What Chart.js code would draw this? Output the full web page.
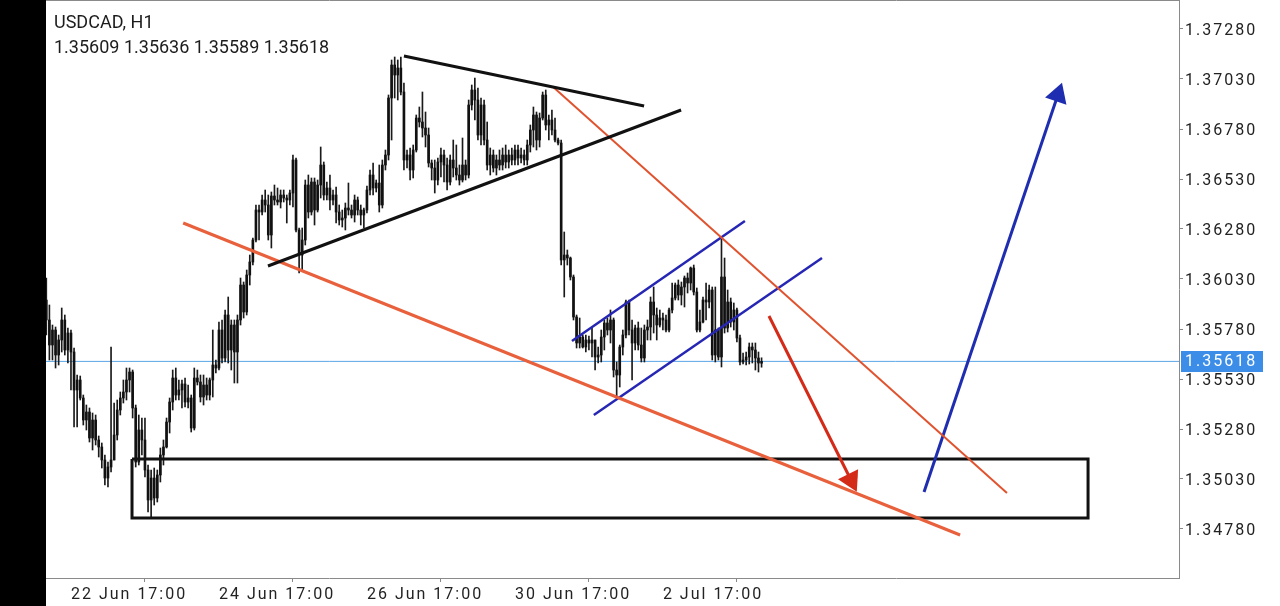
<!DOCTYPE html>
<html><head><meta charset="utf-8">
<script src="https://cdn.jsdelivr.net/npm/chart.js@4.4.1/dist/chart.umd.min.js"></script>
<style>
html,body{margin:0;padding:0;background:#fff;width:1280px;height:606px;overflow:hidden}
#bar{position:absolute;left:0;top:0;width:46px;height:606px;background:#000}
#wrap{position:absolute;left:46px;top:0;width:1234px;height:606px}
.hdr{position:absolute;left:54px;font-family:Roboto,sans-serif;font-size:18px;line-height:18px;color:#1c1c1c;white-space:nowrap}
</style></head><body>
<div id="bar"></div>
<div id="wrap"><canvas id="c" width="1234" height="606"></canvas></div>
<div class="hdr" id="h1" style="top:13px"></div>
<div class="hdr" id="h2" style="top:38px"></div>
<script>
const symbolTitle = 'USDCAD, H1';
const open = [1.35925,1.35825,1.35700,1.35775,1.35650,1.35725,1.35825,1.35675,1.35760,1.35665,1.35475,1.35525,1.35435,1.35325,1.35365,1.35235,1.35325,1.35225,1.35190,1.35125,1.35035,1.35090,1.35125,1.35250,1.35375,1.35435,1.35465,1.35525,1.35565,1.35385,1.35115,1.35275,1.35225,1.35075,1.34925,1.35035,1.34935,1.35050,1.35150,1.35190,1.35315,1.35415,1.35535,1.35450,1.35475,1.35505,1.35415,1.35435,1.35285,1.35535,1.35515,1.35440,1.35500,1.35450,1.35525,1.35600,1.35585,1.35775,1.35635,1.35850,1.35675,1.35800,1.35665,1.35825,1.36000,1.35865,1.36050,1.36115,1.36225,1.36375,1.36365,1.36425,1.36400,1.36250,1.36445,1.36425,1.36415,1.36450,1.36435,1.36425,1.36460,1.36625,1.36275,1.36150,1.36225,1.36500,1.36365,1.36515,1.36375,1.36500,1.36600,1.36450,1.36485,1.36425,1.36450,1.36365,1.36325,1.36335,1.36385,1.36375,1.36350,1.36425,1.36375,1.36350,1.36375,1.36475,1.36550,1.36485,1.36510,1.36400,1.36600,1.36650,1.36935,1.37100,1.37050,1.37085,1.36965,1.36625,1.36650,1.36575,1.36675,1.36835,1.36815,1.36785,1.36750,1.36610,1.36585,1.36525,1.36615,1.36650,1.36600,1.36515,1.36625,1.36585,1.36550,1.36525,1.36600,1.36550,1.36900,1.36975,1.36925,1.36750,1.36900,1.36725,1.36600,1.36650,1.36585,1.36625,1.36600,1.36650,1.36615,1.36650,1.36625,1.36675,1.36635,1.36650,1.36625,1.36700,1.36775,1.36850,1.36725,1.36835,1.36950,1.36800,1.36825,1.36775,1.36725,1.36710,1.36125,1.36150,1.36135,1.36040,1.35840,1.35710,1.35740,1.35690,1.35725,1.35710,1.35725,1.35640,1.35650,1.35740,1.35810,1.35775,1.35825,1.35575,1.35550,1.35690,1.35750,1.35915,1.35775,1.35710,1.35785,1.35700,1.35635,1.35775,1.35790,1.35915,1.35850,1.35800,1.35835,1.35825,1.35775,1.35875,1.35935,1.36000,1.35950,1.35990,1.36035,1.36010,1.36085,1.35965,1.35775,1.35815,1.35925,1.35915,1.35975,1.35650,1.35775,1.35640,1.36040,1.35785,1.35915,1.35815,1.35875,1.35735,1.35615,1.35625,1.35640,1.35690,1.35675,1.35635,1.35609];
const high = [1.36035,1.35900,1.35800,1.35790,1.35750,1.35885,1.35850,1.35785,1.35775,1.35685,1.35550,1.35545,1.35450,1.35400,1.35385,1.35360,1.35350,1.35245,1.35210,1.35150,1.35115,1.35690,1.35410,1.35425,1.35465,1.35525,1.35585,1.35585,1.35575,1.35400,1.35350,1.35335,1.35335,1.35100,1.35075,1.35085,1.35075,1.35185,1.35225,1.35335,1.35435,1.35575,1.35585,1.35525,1.35525,1.35535,1.35500,1.35450,1.35585,1.35575,1.35550,1.35550,1.35535,1.35535,1.35775,1.35625,1.35815,1.35825,1.35875,1.35940,1.35825,1.35825,1.35850,1.36035,1.36015,1.36075,1.36150,1.36235,1.36400,1.36400,1.36450,1.36475,1.36450,1.36465,1.36500,1.36485,1.36475,1.36475,1.36450,1.36475,1.36650,1.36635,1.36285,1.36285,1.36525,1.36550,1.36535,1.36535,1.36525,1.36690,1.36615,1.36515,1.36550,1.36475,1.36490,1.36400,1.36375,1.36410,1.36510,1.36400,1.36450,1.36440,1.36400,1.36385,1.36495,1.36575,1.36610,1.36525,1.36600,1.36625,1.36675,1.36950,1.37125,1.37140,1.37125,1.37140,1.37010,1.36675,1.36685,1.36700,1.36850,1.36890,1.36965,1.36865,1.36785,1.36625,1.36625,1.36635,1.36685,1.36675,1.36635,1.36650,1.36725,1.36700,1.36600,1.36735,1.36625,1.36925,1.37000,1.37035,1.36985,1.36935,1.36925,1.36815,1.36685,1.36675,1.36650,1.36675,1.36685,1.36700,1.36675,1.36685,1.36700,1.36700,1.36685,1.36675,1.36725,1.36800,1.36890,1.36865,1.36860,1.36965,1.36975,1.36850,1.36875,1.36835,1.36735,1.36725,1.36265,1.36175,1.36140,1.36050,1.35850,1.35835,1.35750,1.35750,1.35745,1.35790,1.35725,1.35690,1.35775,1.35825,1.35835,1.35875,1.35835,1.35615,1.35700,1.35775,1.35925,1.35925,1.35825,1.35800,1.35815,1.35785,1.35800,1.35825,1.35940,1.35990,1.35885,1.35875,1.35860,1.35850,1.35885,1.36010,1.36010,1.36025,1.36015,1.36045,1.36060,1.36090,1.36100,1.35985,1.35875,1.35940,1.36010,1.36000,1.35990,1.35990,1.35785,1.36240,1.36135,1.35975,1.35935,1.35910,1.35885,1.35750,1.35660,1.35665,1.35710,1.35710,1.35710,1.35665,1.35636];
const low = [1.35750,1.35625,1.35625,1.35585,1.35600,1.35665,1.35650,1.35610,1.35475,1.35290,1.35290,1.35425,1.35300,1.35275,1.35215,1.35175,1.35200,1.35140,1.35085,1.35000,1.34990,1.35065,1.35125,1.35225,1.35350,1.35410,1.35425,1.35465,1.35335,1.35090,1.35100,1.35150,1.35040,1.34865,1.34835,1.34900,1.34915,1.35015,1.35100,1.35185,1.35260,1.35375,1.35425,1.35425,1.35385,1.35390,1.35385,1.35265,1.35275,1.35500,1.35415,1.35400,1.35425,1.35425,1.35440,1.35560,1.35575,1.35610,1.35615,1.35610,1.35575,1.35510,1.35510,1.35800,1.35835,1.35850,1.36000,1.36100,1.36215,1.36225,1.36350,1.36365,1.36225,1.36185,1.36400,1.36400,1.36385,1.36415,1.36310,1.36400,1.36390,1.36265,1.36060,1.36075,1.36200,1.36335,1.36350,1.36300,1.36365,1.36435,1.36425,1.36425,1.36375,1.36400,1.36310,1.36300,1.36290,1.36275,1.36350,1.36335,1.36315,1.36350,1.36300,1.36285,1.36360,1.36450,1.36450,1.36465,1.36365,1.36385,1.36575,1.36625,1.36725,1.36935,1.36925,1.36950,1.36575,1.36585,1.36525,1.36535,1.36665,1.36790,1.36740,1.36690,1.36590,1.36525,1.36460,1.36500,1.36540,1.36515,1.36475,1.36500,1.36540,1.36525,1.36500,1.36515,1.36525,1.36535,1.36875,1.36825,1.36725,1.36700,1.36700,1.36575,1.36550,1.36565,1.36550,1.36575,1.36575,1.36585,1.36585,1.36600,1.36600,1.36600,1.36610,1.36600,1.36600,1.36665,1.36690,1.36675,1.36690,1.36825,1.36775,1.36725,1.36750,1.36715,1.36700,1.36100,1.35940,1.36100,1.36025,1.35825,1.35685,1.35685,1.35685,1.35665,1.35675,1.35640,1.35575,1.35610,1.35615,1.35675,1.35750,1.35710,1.35540,1.35440,1.35490,1.35650,1.35735,1.35750,1.35525,1.35675,1.35675,1.35615,1.35615,1.35725,1.35725,1.35760,1.35725,1.35790,1.35775,1.35765,1.35765,1.35860,1.35925,1.35925,1.35900,1.35890,1.35960,1.35975,1.35950,1.35765,1.35765,1.35810,1.35825,1.35885,1.35625,1.35615,1.35625,1.35590,1.35760,1.35765,1.35790,1.35775,1.35715,1.35600,1.35605,1.35600,1.35605,1.35610,1.35575,1.35565,1.35589];
const close = [1.35825,1.35700,1.35775,1.35650,1.35725,1.35825,1.35675,1.35760,1.35665,1.35475,1.35525,1.35435,1.35325,1.35365,1.35235,1.35325,1.35225,1.35190,1.35125,1.35035,1.35090,1.35125,1.35250,1.35375,1.35435,1.35465,1.35525,1.35565,1.35385,1.35115,1.35275,1.35225,1.35075,1.34925,1.35035,1.34935,1.35050,1.35150,1.35190,1.35315,1.35415,1.35535,1.35450,1.35475,1.35505,1.35415,1.35435,1.35285,1.35535,1.35515,1.35440,1.35500,1.35450,1.35525,1.35600,1.35585,1.35775,1.35635,1.35850,1.35675,1.35800,1.35665,1.35825,1.36000,1.35865,1.36050,1.36115,1.36225,1.36375,1.36365,1.36425,1.36400,1.36250,1.36445,1.36425,1.36415,1.36450,1.36435,1.36425,1.36460,1.36625,1.36275,1.36150,1.36225,1.36500,1.36365,1.36515,1.36375,1.36500,1.36600,1.36450,1.36485,1.36425,1.36450,1.36365,1.36325,1.36335,1.36385,1.36375,1.36350,1.36425,1.36375,1.36350,1.36375,1.36475,1.36550,1.36485,1.36510,1.36400,1.36600,1.36650,1.36935,1.37100,1.37050,1.37085,1.36965,1.36625,1.36650,1.36575,1.36675,1.36835,1.36815,1.36785,1.36750,1.36610,1.36585,1.36525,1.36615,1.36650,1.36600,1.36515,1.36625,1.36585,1.36550,1.36525,1.36600,1.36550,1.36900,1.36975,1.36925,1.36750,1.36900,1.36725,1.36600,1.36650,1.36585,1.36625,1.36600,1.36650,1.36615,1.36650,1.36625,1.36675,1.36635,1.36650,1.36625,1.36700,1.36775,1.36850,1.36725,1.36835,1.36950,1.36800,1.36825,1.36775,1.36725,1.36710,1.36125,1.36150,1.36135,1.36040,1.35840,1.35710,1.35740,1.35690,1.35725,1.35710,1.35725,1.35640,1.35650,1.35740,1.35810,1.35775,1.35825,1.35575,1.35550,1.35690,1.35750,1.35915,1.35775,1.35710,1.35785,1.35700,1.35635,1.35775,1.35790,1.35915,1.35850,1.35800,1.35835,1.35825,1.35775,1.35875,1.35935,1.36000,1.35950,1.35990,1.36035,1.36010,1.36085,1.35965,1.35775,1.35815,1.35925,1.35915,1.35975,1.35650,1.35775,1.35640,1.36040,1.35785,1.35915,1.35815,1.35875,1.35735,1.35615,1.35625,1.35640,1.35690,1.35675,1.35635,1.35610,1.35618];

const xTickIndex = [8, 56, 104, 152, 200];
const xTickLabels = ['22 Jun 17:00', '24 Jun 17:00', '26 Jun 17:00', '30 Jun 17:00', '2 Jul 17:00'];
const yTicks = [1.37280, 1.37030, 1.36780, 1.36530, 1.36280, 1.36030, 1.35780, 1.35530, 1.35280, 1.35030, 1.34780];
const xRange = [-0.1, 367.4];
const yRange = [1.34535, 1.37425];

// drawn objects: [candle index, price]
const triangleUpper = [[116.0, 1.37145], [193.9, 1.36895]];
const triangleLower = [[71.9, 1.36095], [205.9, 1.36875]];
const wedgeLower = [[44.4, 1.36310], [296.4, 1.34750]];
const wedgeUpper = [[164.4, 1.36990], [311.6, 1.34960]];
const channelUpper = [[170.5, 1.35720], [226.6, 1.36320]];
const channelLower = [[177.6, 1.35350], [251.6, 1.36135]];
const arrowDown = [[234.4, 1.35845], [261.0, 1.35025]];
const arrowUp = [[284.7, 1.34965], [328.1, 1.36950]];
const zoneX = [27.8, 337.9];
const zonePrice = [1.34835, 1.35130];

document.getElementById('h1').textContent = symbolTitle;
const last = close.length - 1;
document.getElementById('h2').textContent = [open[last], high[last], low[last], close[last]].map(v => v.toFixed(5)).join(' ');

const idx = close.map((_, i) => i);
const pts = a => a.map(p => ({x: p[0], y: p[1]}));
const lineDS = (a, color, w) => ({type: 'line', data: pts(a), borderColor: color, borderWidth: w, pointRadius: 0, order: 1, tension: 0});
function arrowRotation(ctx) {
  const ds = ctx.chart.data.datasets[ctx.datasetIndex].data;
  const xs = ctx.chart.scales.x, ys = ctx.chart.scales.y;
  const dx = xs.getPixelForValue(ds[1].x) - xs.getPixelForValue(ds[0].x);
  const dy = ys.getPixelForValue(ds[1].y) - ys.getPixelForValue(ds[0].y);
  return Math.atan2(dx, -dy) * 180 / Math.PI;
}
const arrowDS = (a, color) => ({type: 'line', data: pts(a), borderColor: color, backgroundColor: color, borderWidth: 3,
  pointRadius: [0, 13], pointStyle: 'triangle', pointRotation: arrowRotation, pointBorderWidth: 0, pointBackgroundColor: color, order: 1});

const zone = [[zoneX[0], zonePrice[1]], [zoneX[1], zonePrice[1]], [zoneX[1], zonePrice[0]], [zoneX[0], zonePrice[0]], [zoneX[0], zonePrice[1]]];

const frameAndTag = {
  id: 'frameAndTag',
  beforeDraw(chart) { chart.ctx.letterSpacing = '2px'; },
  afterDraw(chart) {
    const c = chart.ctx, a = chart.chartArea;
    c.save();
    c.strokeStyle = '#8a8a8a'; c.lineWidth = 1;
    c.beginPath(); c.moveTo(a.left, a.top + 0.5); c.lineTo(a.right + 1, a.top + 0.5); c.stroke();
    const y = chart.scales.y.getPixelForValue(close[last]);
    const x = a.right + 2;
    c.fillStyle = '#3b8de8';
    c.fillRect(x, Math.round(y) - 10, 82, 21);
    c.fillStyle = '#ffffff';
    c.font = '16px Roboto';
    c.letterSpacing = '2px';
    c.textBaseline = 'middle';
    c.fillText(close[last].toFixed(5), x + 4, y + 1);
    c.restore();
  }
};
const noPad = s => { s.paddingTop = 0; s.paddingBottom = 0; s.paddingLeft = 0; s.paddingRight = 0; };

new Chart(document.getElementById('c'), {
  type: 'bar',
  data: {
    datasets: [
      lineDS(triangleUpper, '#111111', 3),
      lineDS(triangleLower, '#111111', 3),
      lineDS(wedgeLower, '#e8603c', 3),
      lineDS(wedgeUpper, '#e0532f', 2),
      lineDS(channelUpper, '#2626b4', 2.5),
      lineDS(channelLower, '#2626b4', 2.5),
      arrowDS(arrowDown, '#d42a18'),
      arrowDS(arrowUp, '#1f2db0'),
      lineDS(zone, '#111111', 3),
      {type: 'line', data: [{x: xRange[0], y: close[last]}, {x: xRange[1], y: close[last]}], borderColor: '#5aa6e6', borderWidth: 1, pointRadius: 0, order: 5},
      {type: 'bar', data: idx.map(i => ({x: i, y: [low[i], high[i]]})), backgroundColor: '#1a1a1a', barThickness: 1, grouped: false, order: 3},
      {type: 'bar', data: idx.map(i => ({x: i, y: [open[i], close[i]]})), backgroundColor: '#111111', barThickness: 2, minBarLength: 1, grouped: false, order: 2}
    ]
  },
  options: {
    responsive: false, animation: false, events: [],
    layout: {padding: 0, autoPadding: false},
    plugins: {legend: {display: false}, tooltip: {enabled: false}},
    scales: {
      x: {
        type: 'linear', position: 'bottom', min: xRange[0], max: xRange[1], offset: false,
        afterFit: s => { s.height = 28; noPad(s); },
        afterBuildTicks: s => { s.ticks = xTickIndex.map(v => ({value: v})); },
        ticks: {autoSkip: false, maxRotation: 0, align: 'start', padding: 3, color: '#222', font: {family: 'Roboto', size: 16},
          callback: (v, i) => xTickLabels[i]},
        grid: {drawOnChartArea: false, drawTicks: true, tickLength: 4, color: '#888'},
        border: {display: true, color: '#8a8a8a', width: 1}
      },
      y: {
        type: 'linear', position: 'right', min: yRange[0], max: yRange[1],
        afterFit: s => { s.width = 101; noPad(s); },
        afterBuildTicks: s => { s.ticks = yTicks.map(v => ({value: v})); },
        ticks: {padding: 2, labelOffset: 2, color: '#222', font: {family: 'Roboto', size: 16}, callback: v => v.toFixed(5)},
        grid: {drawOnChartArea: false, drawTicks: true, tickLength: 4, color: '#888'},
        border: {display: true, color: '#8a8a8a', width: 1}
      }
    }
  },
  plugins: [frameAndTag]
});
</script>
</body></html>
